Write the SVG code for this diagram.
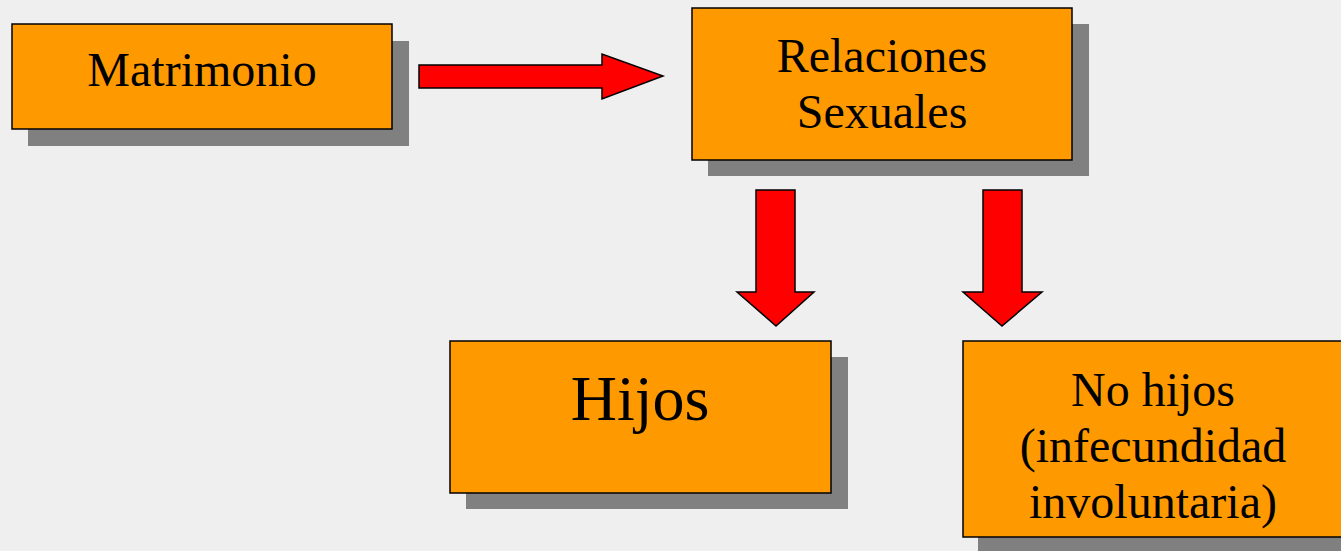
<svg xmlns="http://www.w3.org/2000/svg" width="1341" height="551" viewBox="0 0 1341 551">
<style>
.shadow{fill:#808080}
.box{fill:#ff9900;stroke:#000;stroke-width:1.5}
.lbl{font-family:"Liberation Serif","Times New Roman",serif;font-size:48px;fill:#000;text-anchor:middle}
.arrow{fill:#ff0000;stroke:#000;stroke-width:1.5;stroke-linejoin:miter}
</style>
<rect x="0" y="0" width="1341" height="551" fill="#efefef"/>
<g id="node-matrimonio">
<rect class="shadow" x="28" y="41" width="381" height="105"/>
<rect class="box" x="12" y="24" width="380" height="105"/>
<text class="lbl" x="202" y="86">Matrimonio</text>
</g>
<g id="node-relaciones">
<rect class="shadow" x="708" y="24" width="381" height="152"/>
<rect class="box" x="692" y="8" width="380" height="152"/>
<text class="lbl" x="882" y="72">Relaciones</text>
<text class="lbl" x="882" y="128">Sexuales</text>
</g>
<g id="node-hijos">
<rect class="shadow" x="466" y="357" width="382" height="152"/>
<rect class="box" x="450" y="341" width="381" height="152"/>
<text class="lbl" x="640" y="420" style="font-size:64px">Hijos</text>
</g>
<g id="node-nohijos">
<rect class="shadow" x="978" y="357" width="380" height="200"/>
<rect class="box" x="963" y="341" width="390" height="196"/>
<text class="lbl" x="1153" y="406">No hijos</text>
<text class="lbl" x="1153" y="462">(infecundidad</text>
<text class="lbl" x="1153" y="518">involuntaria)</text>
</g>
<g id="connectors">
<polygon class="arrow" points="419,65 602,65 602,54 663,76 602,99 602,88 419,88"/>
<polygon class="arrow" points="756,190 795,190 795,292 814,292 776,326 737,292 756,292"/>
<polygon class="arrow" points="983,190 1022,190 1022,292 1042,292 1002,326 963,292 983,292"/>
</g>
</svg>
